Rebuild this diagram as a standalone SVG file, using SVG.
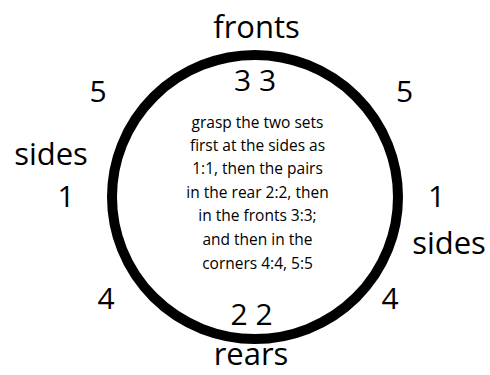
<svg xmlns="http://www.w3.org/2000/svg" width="490" height="375" viewBox="0 0 490 375">
<style>
.lbl{font-family:"Open Sans","Noto Sans","Liberation Sans",sans-serif;font-size:31px;fill:#000;text-anchor:middle}
.num{font-family:"Open Sans","Noto Sans","Liberation Sans",sans-serif;font-size:30px;fill:#000;text-anchor:middle}
.body{font-family:"Open Sans","Noto Sans","Liberation Sans",sans-serif;font-size:15.5px;fill:#000;text-anchor:middle}
</style>
<rect width="490" height="375" fill="#fff"/>
<g id="ring">
<ellipse cx="255" cy="197" rx="143" ry="142" fill="none" stroke="#000" stroke-width="10"/>
</g>
<g id="labels">
<text class="lbl" x="256.5" y="38">fronts</text>
<text class="lbl" x="51" y="165">sides</text>
<text class="lbl" x="449" y="254">sides</text>
<text class="lbl" x="251" y="365">rears</text>
</g>
<g id="numbers">
<text class="num" x="255" y="91">3 3</text>
<text class="num" x="98" y="102">5</text>
<text class="num" x="404.5" y="102">5</text>
<text class="num" x="66" y="207">1</text>
<text class="num" x="436.5" y="207">1</text>
<text class="num" x="106" y="309">4</text>
<text class="num" x="390" y="309">4</text>
<text class="num" x="251.5" y="325">2 2</text>
</g>
<g id="note">
<text class="body" x="257.5" y="128">grasp the two sets</text>
<text class="body" x="257.5" y="151">first at the sides as</text>
<text class="body" x="257.5" y="174">1:1, then the pairs</text>
<text class="body" x="257.5" y="198">in the rear 2:2, then</text>
<text class="body" x="257.5" y="221">in the fronts 3:3;</text>
<text class="body" x="257.5" y="245">and then in the</text>
<text class="body" x="257.5" y="269">corners 4:4, 5:5</text>
</g>
</svg>
